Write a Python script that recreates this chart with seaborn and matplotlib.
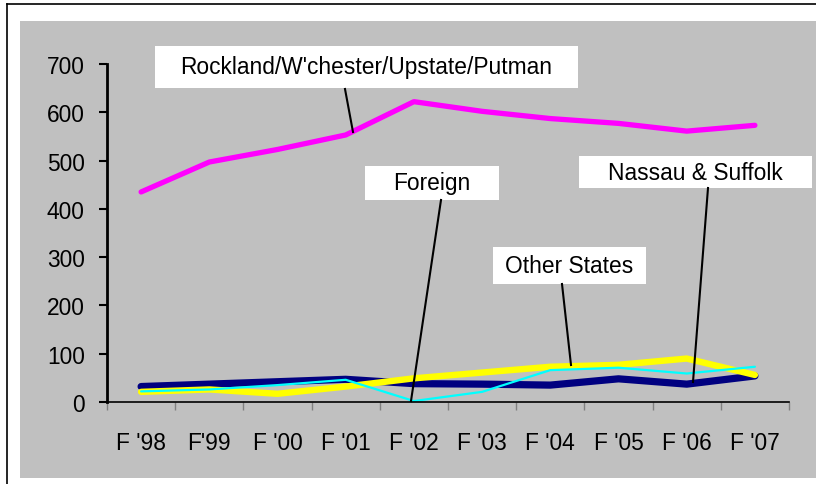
import matplotlib
matplotlib.use("Agg")
import matplotlib.pyplot as plt
from matplotlib.patches import Rectangle
from matplotlib.lines import Line2D
import seaborn as sns
import pandas as pd
import numpy as np

years = ["F '98", "F'99", "F '00", "F '01", "F '02", "F '03", "F '04", "F '05", "F '06", "F '07"]
rockland = [435, 497, 523, 553, 622, 602, 587, 577, 561, 573]
nassau = [32, 37, 42, 47, 38, 37, 35, 48, 37, 54]
other_states = [21, 26, 17, 32, 49, 61, 73, 77, 90, 56]
foreign = [22, 26, 35, 46, 2, 21, 66, 71, 59, 73]

series_names = ["Nassau & Suffolk", "Other States", "Foreign", "Rockland/W'chester/Upstate/Putman"]
series_values = [nassau, other_states, foreign, rockland]
colors = {"Nassau & Suffolk": "#000080", "Other States": "#FFFF00",
          "Foreign": "#00FFFF", "Rockland/W'chester/Upstate/Putman": "#FF00FF"}
widths = {"Nassau & Suffolk": 5.2, "Other States": 4.6,
          "Foreign": 1.6, "Rockland/W'chester/Upstate/Putman": 3.8}

rows = []
for name, vals in zip(series_names, series_values):
    for i, v in enumerate(vals):
        rows.append({"idx": i, "value": v, "series": name})
df = pd.DataFrame(rows)

plt.rcParams['font.family'] = ['Liberation Sans', 'DejaVu Sans']

W, H = 816, 485
fig = plt.figure(figsize=(W / 100, H / 100), dpi=100, facecolor="white")

def fx(px):
    return px / W

def fy(py):
    return 1 - py / H

# gray chart area and outer frame
fig.patches.append(Rectangle((fx(20), fy(479)), fx(816) - fx(20), fy(22) - fy(479),
                             transform=fig.transFigure, facecolor="#C0C0C0",
                             edgecolor="none", zorder=-5))
fig.lines.append(Line2D([fx(7), fx(7)], [fy(5), fy(485)], transform=fig.transFigure,
                        color="black", lw=1.2, zorder=-4))
fig.lines.append(Line2D([fx(7), fx(816)], [fy(5), fy(5)], transform=fig.transFigure,
                        color="black", lw=1.2, zorder=-4))

ax = fig.add_axes([fx(107), fy(403), fx(789) - fx(107), fy(65) - fy(403)])
ax.set_facecolor("none")
ax.set_zorder(1)

for name in series_names:
    sub = df[df["series"] == name]
    sns.lineplot(data=sub, x="idx", y="value", ax=ax, color=colors[name],
                 lw=widths[name], legend=False, solid_capstyle="round",
                 solid_joinstyle="round")

ax.set_xlim(-0.5, len(years) - 0.5)
ax.set_ylim(0, 700)
ax.set_xlabel("")
ax.set_ylabel("")

ax.set_yticks(np.arange(0, 701, 100))
ax.tick_params(axis="y", length=6, width=1.5, color="black", pad=10, labelsize=16.4)
ax.set_xticks(np.arange(len(years)))
ax.set_xticklabels(years)
ax.tick_params(axis="x", which="major", length=0, pad=21, labelsize=16.4)
ax.set_xticks(np.arange(-0.5, len(years), 1.0), minor=True)
ax.tick_params(axis="x", which="minor", length=6, width=1, color="#808080")

for s in ["top", "right"]:
    ax.spines[s].set_visible(False)
ax.spines["left"].set_linewidth(2.0)
ax.spines["bottom"].set_linewidth(1.2)
ax.spines["left"].set_color("black")
ax.spines["bottom"].set_color("black")

# label boxes with leader lines (pixel coordinates -> figure)
def label(text, box, line):
    x0, y0, x1, y1 = box
    fig.patches.append(Rectangle((fx(x0), fy(y1)), fx(x1) - fx(x0), fy(y0) - fy(y1),
                                 transform=fig.transFigure, facecolor="white",
                                 edgecolor="none", zorder=5))
    fig.text(fx((x0 + x1) / 2), fy((y0 + y1) / 2), text, ha="center", va="center",
             fontsize=16.4, zorder=6)
    fig.lines.append(Line2D([fx(line[0]), fx(line[2])], [fy(line[1]), fy(line[3])],
                            transform=fig.transFigure, color="black", lw=1.5, zorder=6))

label("Rockland/W'chester/Upstate/Putman", (155, 47, 578, 89), (345, 90, 353, 133))
label("Foreign", (365, 167, 499, 201), (441, 201, 411, 402))
label("Nassau & Suffolk", (579, 157, 812, 189), (708, 189, 693, 383))
label("Other States", (493, 248, 646, 285), (562, 285, 571, 366))

fig.savefig("out.png", dpi=100, facecolor="white")
